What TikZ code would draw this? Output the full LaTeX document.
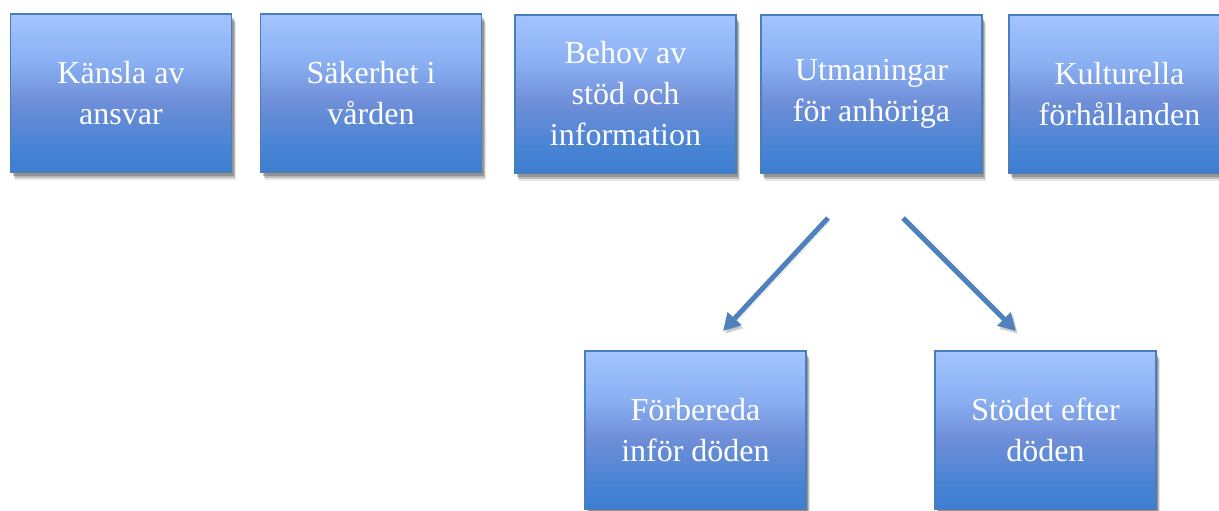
\documentclass[tikz,border=0pt]{standalone}
\usepackage{fontspec}
\setmainfont{Liberation Serif}
\usetikzlibrary{arrows.meta}
\definecolor{bT}{HTML}{A3C4FF}
\definecolor{bT2}{HTML}{8AB0F3}
\definecolor{bM}{HTML}{6E8ED8}
\definecolor{bB2}{HTML}{4884D4}
\definecolor{bB}{HTML}{3D7DD0}
\definecolor{edge}{HTML}{4A7EBB}
\definecolor{arrowblue}{HTML}{4F81BD}
\pgfdeclareverticalshading{boxshade}{100bp}{color(0bp)=(bB); color(25bp)=(bB); color(33bp)=(bB2); color(47bp)=(bM); color(60bp)=(bT2); color(75bp)=(bT); color(100bp)=(bT)}
\tikzset{
  topicbox/.style={rectangle, minimum width=221pt, minimum height=158pt, inner sep=0pt,
    shading=boxshade, draw=edge, line width=1.2pt, text=white, align=center,
    font=\fontsize{32}{41}\selectfont,
    preaction={fill=black, opacity=0.10, transform canvas={xshift=4pt,yshift=-8pt}},
    preaction={fill=black, opacity=0.18, transform canvas={xshift=3pt,yshift=-6pt}},
    preaction={fill=black, opacity=0.22, transform canvas={xshift=2pt,yshift=-4pt}}},
  connector/.style={draw=arrowblue, line width=5pt, -{Triangle[length=17pt,width=18pt]},
    preaction={draw=black!50, opacity=0.35, -{Triangle[length=17pt,width=18pt]}, transform canvas={xshift=2pt,yshift=-3pt}}}
}
\begin{document}
\begin{tikzpicture}[x=1pt,y=-1pt]
\useasboundingbox (0,0) rectangle (1219,511);
\node[topicbox] (n1) at (121,93) {Känsla av\\ansvar};
\node[topicbox] (n2) at (371,93) {Säkerhet i\\vården};
\node[topicbox] (n3) at (625.5,94) {Behov av\\stöd och\\information};
\node[topicbox] (n4) at (871.5,94) {Utmaningar\\för anhöriga};
\node[topicbox] (n5) at (1119.5,94) {Kulturella\\förhållanden};
\node[topicbox] (n6) at (695.5,430) {Förbereda\\inför döden};
\node[topicbox] (n7) at (1045.5,430) {Stödet efter\\döden};
\coordinate (s1) at (828,218);
\coordinate (t1) at (723,331);
\coordinate (s2) at (903,218);
\coordinate (t2) at (1016,331);
\draw[connector] (s1) -- (t1);
\draw[connector] (s2) -- (t2);
\end{tikzpicture}
\end{document}
